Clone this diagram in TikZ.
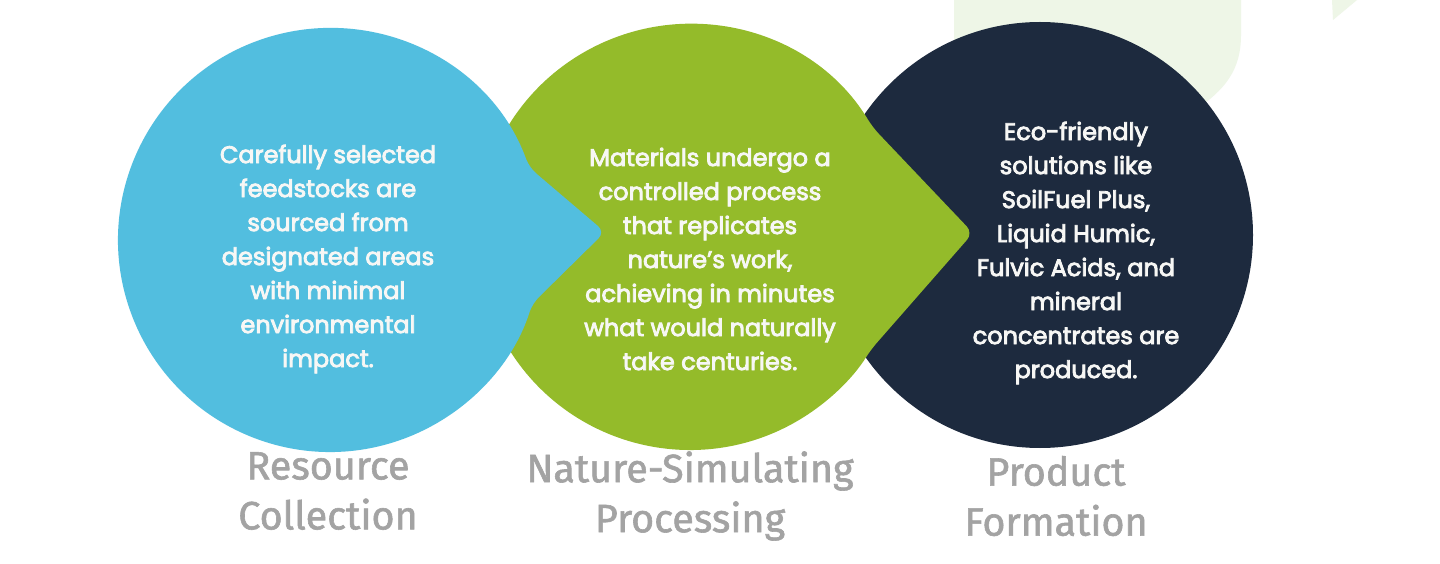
\documentclass[tikz,border=0pt]{standalone}
\usepackage{fontspec}
\setmainfont{Poppins}
\newfontfamily\bodyfont[FakeBold=3.5]{Poppins}
\newfontfamily\labelfont[FakeBold=1.5]{Fira Sans}
\definecolor{cblue}{HTML}{52BEDF}
\definecolor{cgreen}{HTML}{94BB2A}
\definecolor{cnavy}{HTML}{1D2A3E}
\definecolor{cgray}{HTML}{A3A3A3}
\definecolor{cfaint}{HTML}{EEF6E7}
\definecolor{ctext}{HTML}{F7F7F5}
\tikzset{
  bodytext/.style={align=center, text=ctext, inner sep=0pt,
    font=\bodyfont\fontsize{24}{34}\selectfont},
  steplabel/.style={align=center, text=cgray, inner sep=0pt,
    font=\labelfont\fontsize{39.5}{50}\selectfont},
}
\begin{document}
\begin{tikzpicture}[x=1pt,y=1pt]
\useasboundingbox (0,0) rectangle (1440,563);
\fill[white] (0,0) rectangle (1440,563);
% faint background leaves
\fill[cfaint] (954,563) -- (1241,563) -- (1241,528)
  .. controls (1241,493) and (1225,473) .. (1195,453) -- (1000,363) -- (954,363) -- cycle;
\fill[cfaint] (1332,563) -- (1333,543) -- (1357,563) -- cycle;
% navy circle
\coordinate (cN) at (1040,328);
\fill[cnavy] (cN) circle[radius=213];
% green arrow-circle
\coordinate (cG) at (690,326);
\coordinate (tG) at (973,330);
\fill[cgreen, rounded corners=9pt] (cG) ++(31:213) arc[start angle=31, end angle=328, radius=213] -- (tG) -- cycle;
% blue arrow-circle
\coordinate (cB) at (330,323);
\coordinate (tB) at (605,331);
\fill[cblue, rounded corners=9pt] (cB) ++(20:212) arc[start angle=20, end angle=342.5, radius=212] -- (tB) -- cycle;
% texts
\node[bodytext] (tblue) at (328,304) {Carefully selected\\feedstocks are\\sourced from\\designated areas\\with minimal\\environmental\\impact.};
\node[bodytext] (tgreen) at (710,304) {Materials undergo a\\controlled process\\that replicates\\nature’s work,\\achieving in minutes\\what would naturally\\take centuries.};
\node[bodytext] (tnavy) at (1076,310) {Eco-friendly\\solutions like\\SoilFuel Plus,\\Liquid Humic,\\Fulvic Acids, and\\mineral\\concentrates are\\produced.};
% labels
\node[steplabel] (l1) at (328,72) {Resource\\Collection};
\node[steplabel] (l2) at (690,67) {Nature-Simulating\\Processing};
\node[steplabel] (l3) at (1056,67) {Product\\Formation};
\end{tikzpicture}
\end{document}
